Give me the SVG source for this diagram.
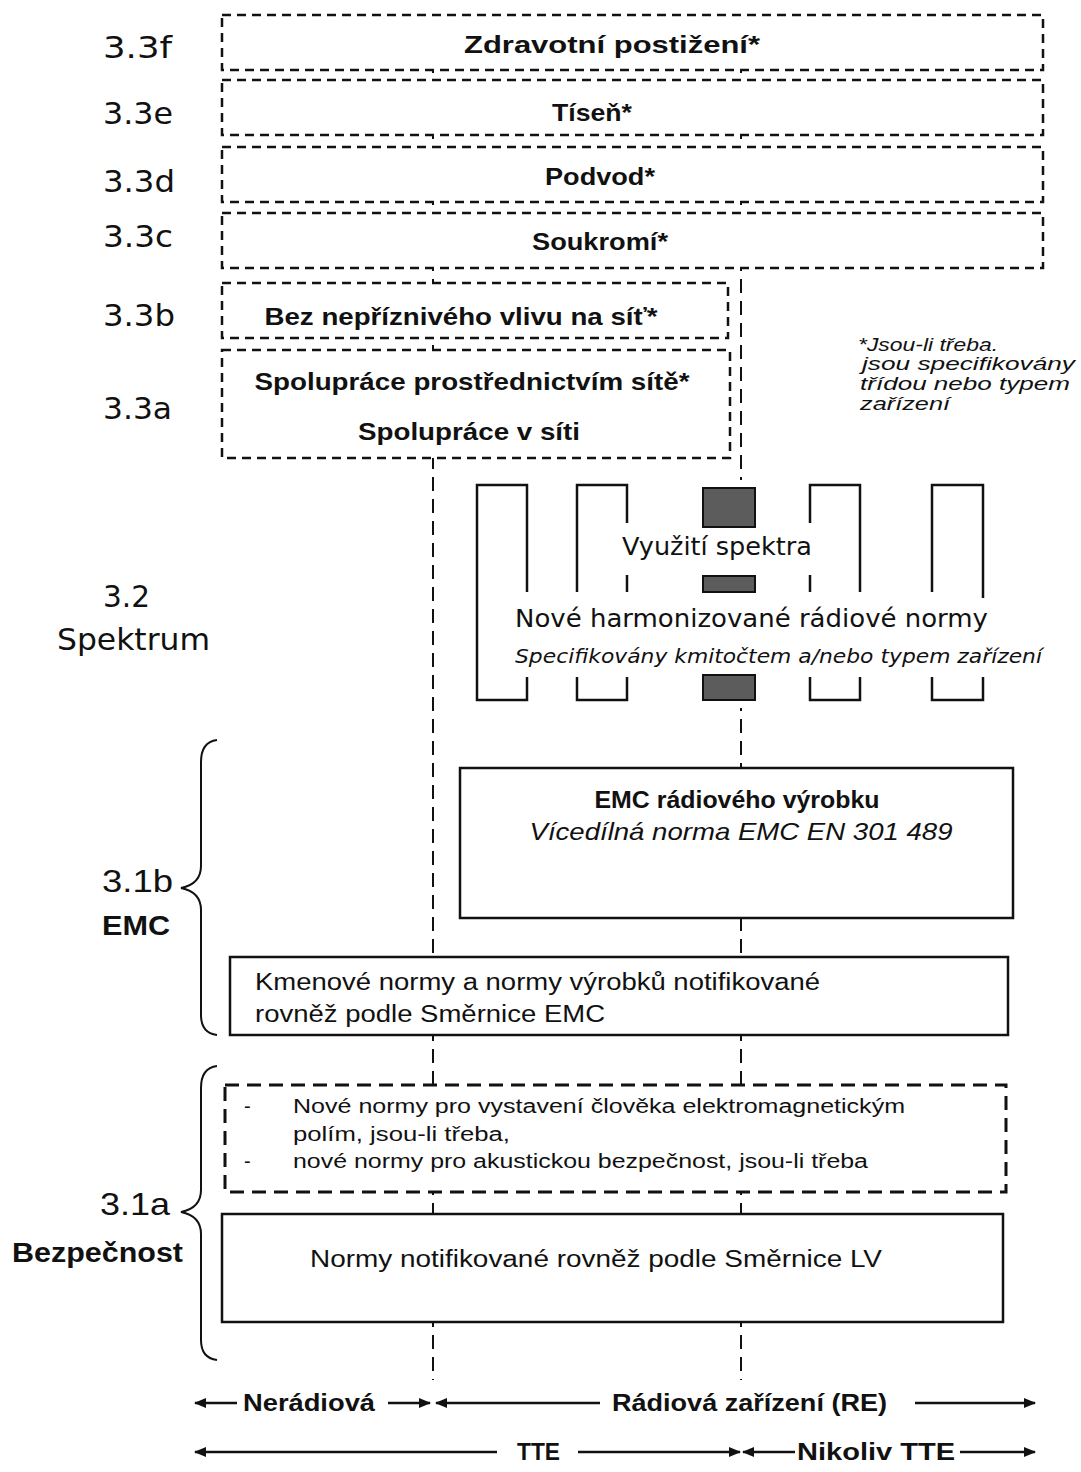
<svg xmlns="http://www.w3.org/2000/svg" width="1081" height="1472" viewBox="0 0 1081 1472">
<style>
  .bg { fill: #ffffff; }
  .dbox { fill: #ffffff; stroke: #111; stroke-width: 2.5; stroke-dasharray: 9 6; }
  .dbox2 { fill: #ffffff; stroke: #111; stroke-width: 3; stroke-dasharray: 14 8; }
  .sbox { fill: #ffffff; stroke: #111; stroke-width: 2.5; }
  .vline { fill: none; stroke: #111; stroke-width: 2; stroke-dasharray: 14 8; }
  .spec { fill: none; stroke: #111; stroke-width: 2.5; }
  .dark { fill: #5c5c5c; stroke: #111; stroke-width: 2; }
  .brace { fill: none; stroke: #111; stroke-width: 2; }
  .arr { fill: none; stroke: #111; stroke-width: 2.5; }
  .lbl { font-family: "DejaVu Sans", "Liberation Sans", sans-serif; font-size: 31px; fill: #111; }
  .lblA { font-family: "Liberation Sans", Arial, sans-serif; font-size: 32px; fill: #111; }
  .lblB { font-family: "Liberation Sans", Arial, sans-serif; font-size: 27px; font-weight: bold; fill: #111; }
  .tb { font-family: "Liberation Sans", Arial, sans-serif; font-size: 24px; font-weight: bold; fill: #111; text-anchor: middle; }
  .tn { font-family: "Liberation Sans", Arial, sans-serif; font-size: 23px; fill: #111; }
  .ts { font-family: "Liberation Sans", Arial, sans-serif; font-size: 20px; fill: #111; }
  .ti { font-family: "Liberation Sans", Arial, sans-serif; font-size: 19px; font-style: italic; fill: #111; }
  .sp { font-family: "DejaVu Sans", "Liberation Sans", sans-serif; font-size: 25px; fill: #111; }
  .spi { font-family: "DejaVu Sans", "Liberation Sans", sans-serif; font-size: 20px; font-style: italic; fill: #111; }
  .emi { font-family: "Liberation Sans", Arial, sans-serif; font-size: 24px; font-style: italic; fill: #111; text-anchor: middle; }
  .ab { font-family: "Liberation Sans", Arial, sans-serif; font-size: 24px; font-weight: bold; fill: #111; }
</style>
<defs>
  <marker id="ah" viewBox="0 0 12 10" refX="11" refY="5" markerWidth="12" markerHeight="10" markerUnits="userSpaceOnUse" orient="auto-start-reverse">
    <path d="M0,0 L12,5 L0,10 Z" fill="#111"/>
  </marker>
</defs>
<rect class="bg" x="0" y="0" width="1081" height="1472"/>

<!-- connectors: dashed vertical boundaries and bottom range arrows -->
<g id="connectors">
  <line class="vline" x1="433" y1="15" x2="433" y2="1380"/>
  <line class="vline" x1="741" y1="15" x2="741" y2="1380"/>
  <line class="arr" x1="237" y1="1403" x2="195" y2="1403" marker-end="url(#ah)"/>
  <line class="arr" x1="388" y1="1403" x2="430" y2="1403" marker-end="url(#ah)"/>
  <line class="arr" x1="600" y1="1403" x2="436" y2="1403" marker-end="url(#ah)"/>
  <line class="arr" x1="915" y1="1403" x2="1035" y2="1403" marker-end="url(#ah)"/>
  <line class="arr" x1="497" y1="1452" x2="195" y2="1452" marker-end="url(#ah)"/>
  <line class="arr" x1="578" y1="1452" x2="740" y2="1452" marker-end="url(#ah)"/>
  <line class="arr" x1="795" y1="1452" x2="743" y2="1452" marker-end="url(#ah)"/>
  <line class="arr" x1="960" y1="1452" x2="1035" y2="1452" marker-end="url(#ah)"/>
</g>

<!-- left labels -->
<g id="labels">
  <text class="lbl" x="103" y="58" textLength="69" lengthAdjust="spacingAndGlyphs">3.3f</text>
  <text class="lbl" x="103" y="124" textLength="70" lengthAdjust="spacingAndGlyphs">3.3e</text>
  <text class="lbl" x="103" y="192" textLength="72" lengthAdjust="spacingAndGlyphs">3.3d</text>
  <text class="lbl" x="103" y="247" textLength="70" lengthAdjust="spacingAndGlyphs">3.3c</text>
  <text class="lbl" x="103" y="326" textLength="72" lengthAdjust="spacingAndGlyphs">3.3b</text>
  <text class="lbl" x="103" y="419" textLength="69" lengthAdjust="spacingAndGlyphs">3.3a</text>
  <text class="lbl" x="103" y="607" textLength="47" lengthAdjust="spacingAndGlyphs">3.2</text>
  <text class="lbl" x="57" y="650" textLength="153" lengthAdjust="spacingAndGlyphs">Spektrum</text>
  <text class="lblA" x="102" y="892" textLength="71" lengthAdjust="spacingAndGlyphs">3.1b</text>
  <text class="lblB" x="102" y="935" textLength="68" lengthAdjust="spacingAndGlyphs">EMC</text>
  <text class="lblA" x="100" y="1215" textLength="70" lengthAdjust="spacingAndGlyphs">3.1a</text>
  <text class="lblB" x="12" y="1262" textLength="171" lengthAdjust="spacingAndGlyphs">Bezpečnost</text>
  <path class="brace" d="M217,740 Q201,742 201,762 V866 Q201,884 181,888 Q201,892 201,910 V1015 Q201,1033 217,1035"/>
  <path class="brace" d="M217,1066 Q201,1068 201,1088 V1190 Q201,1208 181,1212 Q201,1216 201,1234 V1340 Q201,1358 217,1360"/>
</g>

<g id="n33f">
  <rect class="dbox" x="222" y="15" width="821" height="55"/>
  <text class="tb" x="612" y="53" textLength="296" lengthAdjust="spacingAndGlyphs">Zdravotní postižení*</text>
</g>
<g id="n33e">
  <rect class="dbox" x="222" y="80" width="821" height="55"/>
  <text class="tb" x="592" y="121" textLength="80" lengthAdjust="spacingAndGlyphs">Tíseň*</text>
</g>
<g id="n33d">
  <rect class="dbox" x="222" y="147" width="821" height="55"/>
  <text class="tb" x="600" y="185" textLength="110" lengthAdjust="spacingAndGlyphs">Podvod*</text>
</g>
<g id="n33c">
  <rect class="dbox" x="222" y="213" width="821" height="55"/>
  <text class="tb" x="600" y="250" textLength="136" lengthAdjust="spacingAndGlyphs">Soukromí*</text>
</g>
<g id="n33b">
  <rect class="dbox" x="222" y="283" width="506" height="55"/>
  <text class="tb" x="461" y="325" textLength="393" lengthAdjust="spacingAndGlyphs">Bez nepříznivého vlivu na síť*</text>
</g>
<g id="n33a">
  <rect class="dbox" x="222" y="350" width="508" height="108"/>
  <text class="tb" x="472" y="390" textLength="435" lengthAdjust="spacingAndGlyphs">Spolupráce prostřednictvím sítě*</text>
  <text class="tb" x="469" y="440" textLength="222" lengthAdjust="spacingAndGlyphs">Spolupráce v síti</text>
</g>

<g id="footnote">
  <text class="ti" x="858" y="351" textLength="140" lengthAdjust="spacingAndGlyphs">*Jsou-li třeba.</text>
  <text class="ti" x="862" y="370" textLength="213" lengthAdjust="spacingAndGlyphs">jsou specifikovány</text>
  <text class="ti" x="860" y="390" textLength="210" lengthAdjust="spacingAndGlyphs">třídou nebo typem</text>
  <text class="ti" x="860" y="410" textLength="90" lengthAdjust="spacingAndGlyphs">zařízení</text>
</g>

<g id="spectrum">
  <rect class="bg" x="470" y="480" width="520" height="228"/>
  <path class="spec" d="M527,592 V485 H477 V700 H527 V677"/>
  <path class="spec" d="M577,592 V485 H627 V523 M627,575 V592 M577,677 V700 H627 V677"/>
  <path class="spec" d="M810,523 V485 H860 V592 M810,575 V592 M810,677 V700 H860 V677"/>
  <path class="spec" d="M932,592 V485 H983 V598 M932,677 V700 H983 V677"/>
  <rect class="dark" x="703" y="488" width="52" height="39"/>
  <rect class="dark" x="703" y="576" width="52" height="16"/>
  <rect class="dark" x="703" y="675" width="52" height="25"/>
  <text class="sp" x="622" y="555" textLength="190" lengthAdjust="spacingAndGlyphs">Využití spektra</text>
  <text class="sp" x="515" y="627" textLength="473" lengthAdjust="spacingAndGlyphs">Nové harmonizované rádiové normy</text>
  <text class="spi" x="515" y="663" textLength="527" lengthAdjust="spacingAndGlyphs">Specifikovány kmitočtem a/nebo typem zařízení</text>
</g>

<g id="n31b-radio">
  <rect class="sbox" x="460" y="768" width="553" height="150"/>
  <text class="tb" x="737" y="808" textLength="285" lengthAdjust="spacingAndGlyphs">EMC rádiového výrobku</text>
  <text class="emi" x="741" y="840" textLength="423" lengthAdjust="spacingAndGlyphs">Vícedílná norma EMC EN 301 489</text>
</g>
<g id="n31b-generic">
  <rect class="sbox" x="230" y="957" width="778" height="78"/>
  <text class="tn" x="255" y="990" textLength="565" lengthAdjust="spacingAndGlyphs">Kmenové normy a normy výrobků notifikované</text>
  <text class="tn" x="255" y="1022" textLength="350" lengthAdjust="spacingAndGlyphs">rovněž podle Směrnice EMC</text>
</g>
<g id="n31a-new">
  <rect class="dbox2" x="225" y="1085" width="781" height="107"/>
  <text class="ts" x="244" y="1113">-</text>
  <text class="ts" x="293" y="1113" textLength="612" lengthAdjust="spacingAndGlyphs">Nové normy pro vystavení člověka elektromagnetickým</text>
  <text class="ts" x="293" y="1141" textLength="217" lengthAdjust="spacingAndGlyphs">polím, jsou-li třeba,</text>
  <text class="ts" x="244" y="1168">-</text>
  <text class="ts" x="293" y="1168" textLength="575" lengthAdjust="spacingAndGlyphs">nové normy pro akustickou bezpečnost, jsou-li třeba</text>
</g>
<g id="n31a-lv">
  <rect class="sbox" x="222" y="1214" width="781" height="108"/>
  <text class="tn" x="310" y="1267" textLength="572" lengthAdjust="spacingAndGlyphs">Normy notifikované rovněž podle Směrnice LV</text>
</g>

<g id="range-labels">
  <text class="ab" x="243" y="1411" textLength="132" lengthAdjust="spacingAndGlyphs">Nerádiová</text>
  <text class="ab" x="612" y="1411" textLength="275" lengthAdjust="spacingAndGlyphs">Rádiová zařízení (RE)</text>
  <text class="ab" x="517" y="1460" textLength="43" lengthAdjust="spacingAndGlyphs">TTE</text>
  <text class="ab" x="797" y="1460" textLength="158" lengthAdjust="spacingAndGlyphs">Nikoliv TTE</text>
</g>
</svg>
